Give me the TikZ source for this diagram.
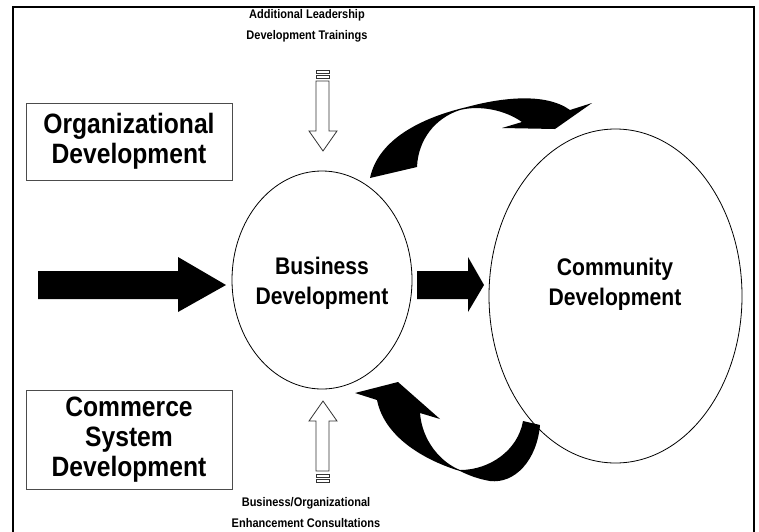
\documentclass[tikz,border=0pt]{standalone}
\usepackage{fontspec}
\setmainfont{Liberation Sans}[FakeStretch=0.88]
\usetikzlibrary{shapes.geometric}
\def\fatarrow(#1:#2:#3){\fill[black] (#1,271) -- (#2,271) -- (#2,257) -- (#3,285) -- (#2,312) -- (#2,299) -- (#1,299) -- cycle;}
\def\stripedarrow(#1:#2){\begin{scope}[shift={(323,#1)},yscale=#2]
		\draw[hollow] (0,0) -- (-14,-20) -- (-7,-20) -- (-7,-70) -- (6,-70) -- (6,-20) -- (14,-20) -- cycle;
		\draw[hollow] (-7,-73) rectangle (6,-76);
		\draw[hollow] (-7,-78) rectangle (6,-81);
	\end{scope}}
\tikzset{
	hollow/.style={draw=black!80, fill=white, line width=0.8pt},
	labelbox/.style={draw=black!70, line width=0.9pt, minimum width=206pt, align=center, inner sep=0pt, font=\fontsize{28}{30}\selectfont\bfseries},
	bigtxt/.style={align=center, font=\fontsize{24}{30}\selectfont\bfseries},
	smalltxt/.style={align=center, font=\fontsize{12.5}{21}\selectfont\bfseries}
}

\begin{document}
\begin{tikzpicture}[x=1pt, y=-1pt]
		\useasboundingbox (0,0) rectangle (759,531);
		%%%%% frame %%%%%
		\draw[line width=1.5pt] (13,532) -- (13,7) -- (754,7) -- (754,532);
		
		%%%%% side boxes %%%%%
		\node[labelbox, minimum height=77pt] (orgdev) at (129,141.5) {Organizational\\Development};
		\node[labelbox, minimum height=99pt] (comdev) at (129,439.5) {Commerce\\System\\Development};
		
		%%%%% circles %%%%%
		\node[draw, ellipse, line width=0.8pt, minimum width=180pt, minimum height=218pt] (business) at (322,280) {};
		\node[bigtxt] (businesstxt) at (322,283) {Business\\Development};
		\node[draw, ellipse, line width=0.8pt, minimum width=253pt, minimum height=334pt] (community) at (615.5,296) {};
		\node[bigtxt] (communitytxt) at (615,284) {Community\\Development};
		
		%%%%% straight arrows %%%%%
		\fatarrow(38:178:226)
		\fatarrow(417:468:484)
		
		%%%%% input arrows %%%%%
		\node[smalltxt] (training) at (307,26) {Additional Leadership\\Development Trainings};
		\stripedarrow(151:1)
		\node[smalltxt] (consult) at (306,513) {Business/Organizational\\Enhancement Consultations};
		\stripedarrow(401:-1)
		
		%%%%% curved arrows %%%%%
		\fill[black] (370,178) .. controls (378,140) and (420,118) .. (467,107)
			.. controls (500,98) and (545,92) .. (570,110) -- (592,103) -- (555,129) -- (502,128) -- (522,122)
			.. controls (505,110) and (480,105) .. (460,110) .. controls (435,118) and (418,140) .. (417,167) -- cycle;
		\fill[black] (355,393) -- (398,382) -- (440,419) -- (420,413)
			.. controls (422,440) and (440,462) .. (460,470) .. controls (490,470) and (518,450) .. (523,421)
			-- (540,425) .. controls (537,460) and (515,484) .. (490,481) .. controls (478,479) and (468,475) .. (460,471)
			.. controls (430,462) and (385,440) .. (377,400) -- cycle;
	\end{tikzpicture}
\end{document}
